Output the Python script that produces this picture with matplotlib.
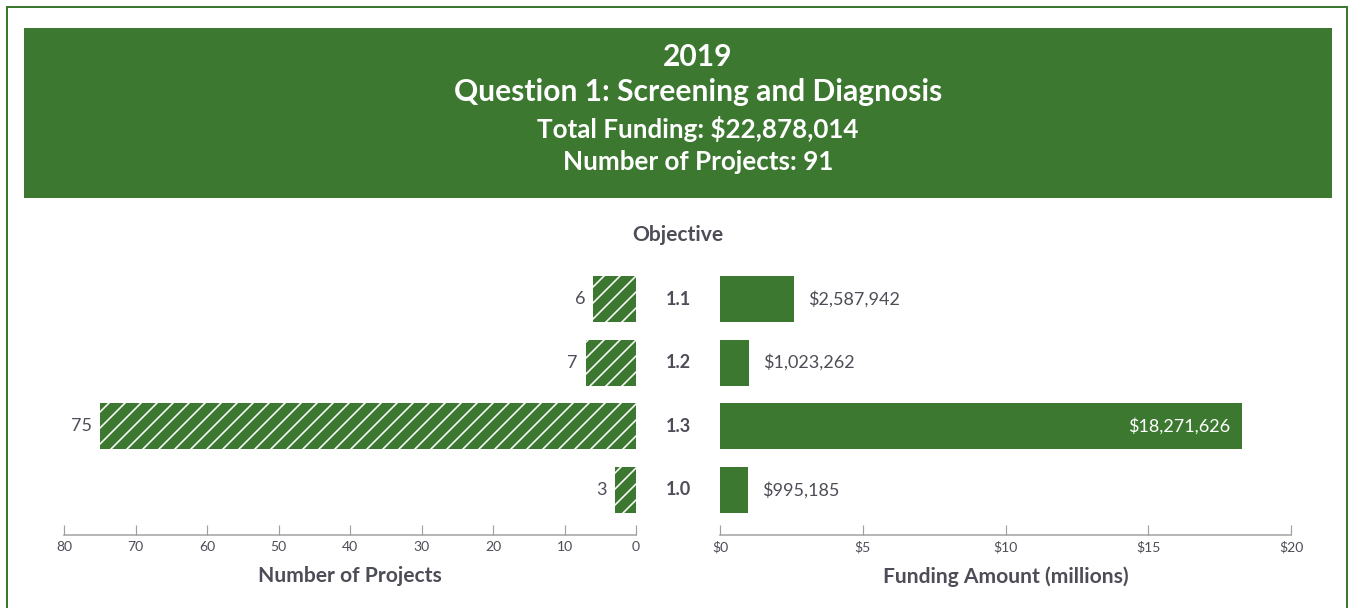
import matplotlib.pyplot as plt
from matplotlib.patches import Rectangle
from matplotlib.lines import Line2D

objectives = ['1.1', '1.2', '1.3', '1.0']
projects = [6, 7, 75, 3]
funding = [2587942, 1023262, 18271626, 995185]

proj_ticks = [80, 70, 60, 50, 40, 30, 20, 10, 0]
fund_ticks = [0, 5, 10, 15, 20]

green = '#3d7831'
grey = '#4d4d57'
W, H = 1349, 608
DPI = 96


def pt(px):
    # pixel size -> points
    return px * 72 / DPI


plt.rcParams['font.family'] = ['Lato', 'DejaVu Sans']
plt.rcParams['hatch.linewidth'] = pt(1.6)

fig = plt.figure(figsize=(W / DPI, H / DPI), dpi=DPI)


def fx(x):
    return x / W


def fy(y):
    return 1 - y / H


# outer frame
lw = pt(2)
fig.add_artist(Line2D([fx(6.5), fx(6.5)], [0, fy(7)], color=green, lw=lw))
fig.add_artist(Line2D([fx(6.5), fx(1347)], [fy(7), fy(7)], color=green, lw=lw))
fig.add_artist(Line2D([fx(1347), fx(1347)], [0, fy(7)], color=green, lw=lw))

# header block
fig.add_artist(Rectangle((fx(24), fy(198)), fx(1332) - fx(24), fy(28) - fy(198),
                         transform=fig.transFigure, facecolor=green, edgecolor='none'))
hx = fx(698)
fig.text(hx, fy(57), '2019', ha='center', va='center', color='white', fontsize=pt(30), fontweight='bold')
fig.text(hx, fy(92), 'Question 1: Screening and Diagnosis', ha='center', va='center',
         color='white', fontsize=pt(30), fontweight='bold')
fig.text(hx, fy(129), 'Total Funding: $22,878,014', ha='center', va='center',
         color='white', fontsize=pt(26), fontweight='bold')
fig.text(hx, fy(162), 'Number of Projects: 91', ha='center', va='center',
         color='white', fontsize=pt(26), fontweight='bold')

cx = fx(678)
fig.text(cx, fy(235), 'Objective', ha='center', va='center', color=grey, fontsize=pt(21), fontweight='bold')

# axes geometry
top_px, bot_px = 250, 535
rows = list(range(len(objectives)))
ylim = (3.707, -0.77)
bar_h = 0.72

axL = fig.add_axes([fx(64), fy(bot_px), fx(636) - fx(64), fy(top_px) - fy(bot_px)])
axR = fig.add_axes([fx(720), fy(bot_px), fx(1291) - fx(720), fy(top_px) - fy(bot_px)])

axL.barh(rows, projects, height=bar_h, color=green, edgecolor='white', linewidth=0, hatch='//')
axL.set_xlim(80, 0)
axL.set_ylim(*ylim)
for r, v in zip(rows, projects):
    axL.annotate(str(v), (v, r), xytext=(-pt(8), 0), textcoords='offset points',
                 ha='right', va='center', color=grey, fontsize=pt(18))

fund_m = [f / 1e6 for f in funding]
axR.barh(rows, fund_m, height=bar_h, color=green, linewidth=0)
axR.set_xlim(0, 20)
axR.set_ylim(*ylim)
for r, v, f in zip(rows, fund_m, funding):
    lab = '${:,}'.format(f)
    if v > 10:
        axR.annotate(lab, (v, r), xytext=(-pt(11), 0), textcoords='offset points',
                     ha='right', va='center', color='white', fontsize=pt(18))
    else:
        axR.annotate(lab, (v, r), xytext=(pt(14), 0), textcoords='offset points',
                     ha='left', va='center', color=grey, fontsize=pt(18))

for r, o in zip(rows, objectives):
    fig.text(cx, fy(top_px) - (r + 0.77) / 4.477 * (fy(top_px) - fy(bot_px)), o,
             ha='center', va='center', color=grey, fontsize=pt(18), fontweight='bold')

for ax in (axL, axR):
    ax.set_facecolor('none')
    for s in ('top', 'right', 'left'):
        ax.spines[s].set_visible(False)
    ax.spines['bottom'].set_color('#a0a0a0')
    ax.spines['bottom'].set_linewidth(pt(1.5))
    ax.set_yticks([])
    ax.tick_params(axis='x', direction='in', length=pt(10), width=pt(1.2), color='#a0a0a0',
                   labelsize=pt(14), labelcolor=grey, pad=pt(6))

axL.set_xticks(proj_ticks)
axL.set_xticklabels([str(t) for t in proj_ticks])
axR.set_xticks(fund_ticks)
axR.set_xticklabels(['${}'.format(t) for t in fund_ticks])

axL.set_xlabel('Number of Projects', color=grey, fontsize=pt(21), fontweight='bold', labelpad=pt(13))
axR.set_xlabel('Funding Amount (millions)', color=grey, fontsize=pt(21), fontweight='bold', labelpad=pt(13))

fig.savefig('out.png', dpi=DPI, facecolor='white')
